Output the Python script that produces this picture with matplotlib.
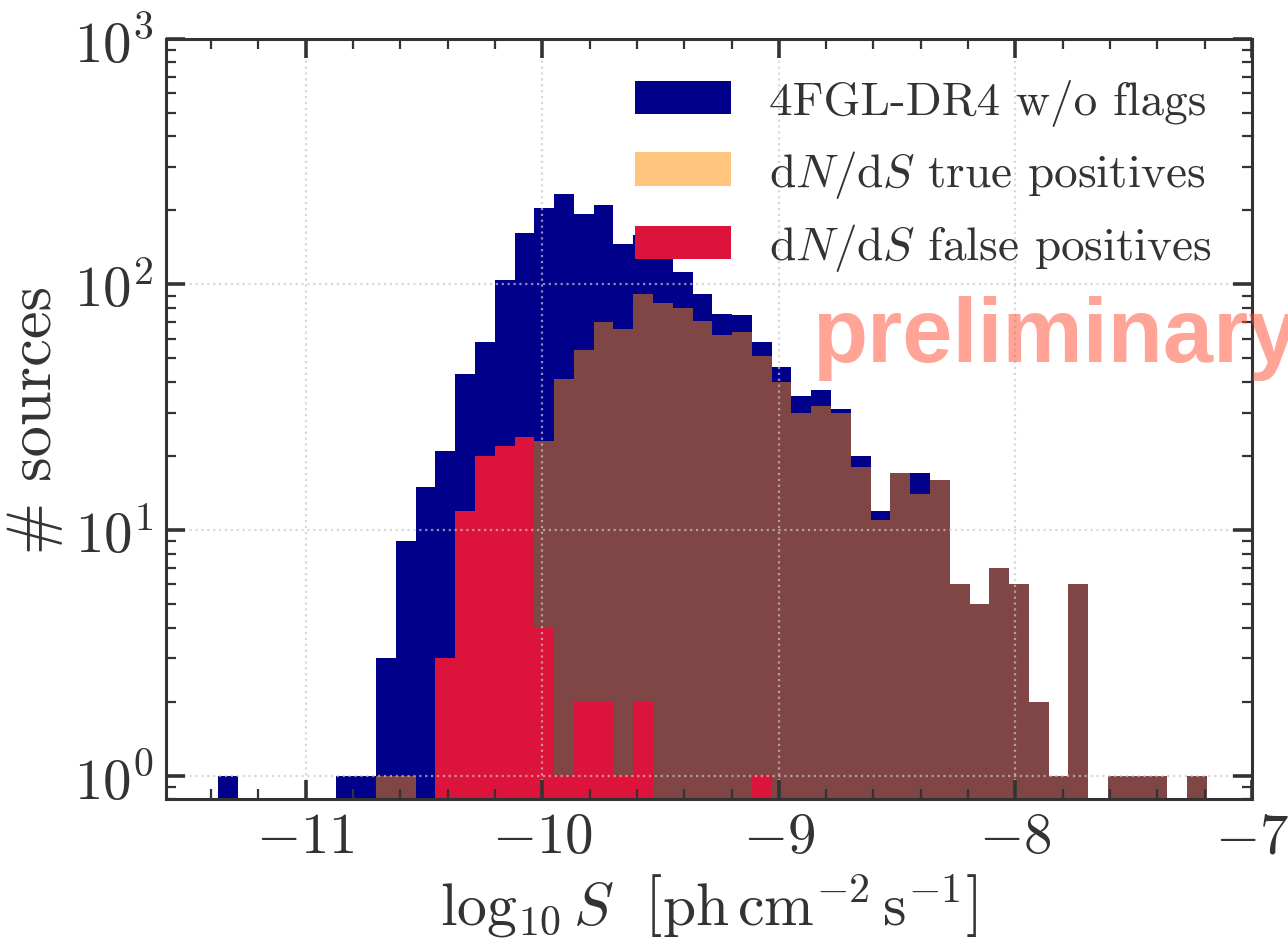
import numpy as np
import matplotlib
matplotlib.use("Agg")
import matplotlib.pyplot as plt
from matplotlib.ticker import MultipleLocator

# bin edges of the flux histogram (log10 S), 50 equal bins
edge_lo, edge_hi, n_bins = -11.372, -7.19, 50

# counts per bin
counts_4fgl = [1, 0, 0, 0, 0, 0, 1, 1, 3, 9,
               15, 21, 43, 58, 104, 162, 205, 234, 194, 211,
               146, 159, 140, 112, 91, 76, 75, 58, 46, 35,
               37, 31, 20, 12, 17, 17, 16, 6, 5, 7,
               6, 2, 1, 6, 0, 1, 1, 1, 0, 1]
counts_tp = [0, 0, 0, 0, 0, 0, 0, 0, 1, 1,
             0, 0, 0, 0, 0, 0, 23, 41, 54, 70,
             66, 91, 84, 80, 71, 62, 64, 51, 40, 30,
             32, 30, 18, 11, 17, 14, 16, 6, 5, 7,
             6, 2, 1, 6, 0, 1, 1, 1, 0, 1]
counts_fp = [0, 0, 0, 0, 0, 0, 0, 0, 0, 0,
             0, 3, 12, 20, 22, 24, 4, 1, 2, 2,
             1, 2, 0, 0, 0, 0, 0, 1, 0, 0,
             0, 0, 0, 0, 0, 0, 0, 0, 0, 0,
             0, 0, 0, 0, 0, 0, 0, 0, 0, 0]

labels = ['4FGL-DR4 w/o flags',
          r'$\mathrm{d}N/\mathrm{d}S$ true positives',
          r'$\mathrm{d}N/\mathrm{d}S$ false positives']

plt.rcParams['font.family'] = 'serif'
plt.rcParams['font.serif'] = ['cmr10']
plt.rcParams['mathtext.fontset'] = 'cm'
plt.rcParams['axes.formatter.use_mathtext'] = True
plt.rcParams['axes.unicode_minus'] = True
dark = '#333333'
plt.rcParams['text.color'] = dark
plt.rcParams['axes.labelcolor'] = dark
plt.rcParams['xtick.color'] = dark
plt.rcParams['ytick.color'] = dark

edges = np.linspace(edge_lo, edge_hi, n_bins + 1)
centers = 0.5 * (edges[:-1] + edges[1:])

fig = plt.figure(figsize=(12.88, 9.45), dpi=100)
ax = fig.add_axes([0.129, 0.153, 0.843, 0.805])

ax.hist(centers, bins=edges, weights=counts_4fgl, color='darkblue',
        label=labels[0], linewidth=0)
ax.hist(centers, bins=edges, weights=counts_tp, color='darkorange',
        alpha=0.5, label=labels[1], linewidth=0)
ax.hist(centers, bins=edges, weights=counts_fp, color='crimson',
        label=labels[2], linewidth=0)

ax.set_yscale('log')
ax.set_xlim(-11.59, -7)
ax.set_ylim(0.8, 1000)
ax.xaxis.set_major_locator(MultipleLocator(1))
ax.xaxis.set_minor_locator(MultipleLocator(0.2))

ax.grid(True, which='major', color='#c8c8c8', alpha=0.7,
        linestyle=':', linewidth=1.6)
ax.tick_params(which='both', direction='in', top=True, right=True,
               labelsize=41, pad=9)
ax.tick_params(which='major', length=14, width=2.6)
ax.tick_params(which='minor', length=7, width=1.6)
for sp in ax.spines.values():
    sp.set_linewidth(2.2)
    sp.set_color(dark)

ax.set_xlabel(r'$\log_{10}S\ \ \left[\mathrm{ph\,cm^{-2}\,s^{-1}}\right]$',
              fontsize=43, labelpad=6)
ax.set_ylabel(r'# sources', fontsize=45, labelpad=8)

ax.legend(loc='upper right', fontsize=34, frameon=False,
          handlelength=2.03, handleheight=0.71, handletextpad=0.8,
          labelspacing=0.46, borderaxespad=0.45)

fig.text(812 / 1288, 1 - 362 / 945, 'preliminary', family='Liberation Sans',
         fontweight='bold', fontsize=65, color='#ff4a30', alpha=0.5,
         ha='left', va='baseline', zorder=10)

fig.savefig('out.png', dpi=100)
